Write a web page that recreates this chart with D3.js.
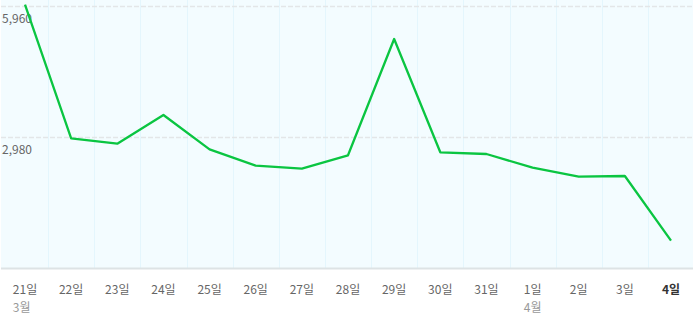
<!DOCTYPE html>
<html>
<head>
<meta charset="utf-8">
<script src="https://cdn.jsdelivr.net/npm/d3@7"></script>
<style>
	body { margin: 0; background: #fff; }
	svg { display: block; font-family: "Noto Sans CJK KR", "Noto Sans", sans-serif; }
</style>
</head>
<body>
<svg class="chart" width="694" height="317"></svg>
<script>
// data
var days = ["21일", "22일", "23일", "24일", "25일", "26일", "27일", "28일", "29일", "30일", "31일", "1일", "2일", "3일", "4일"];
var months = ["3월", "", "", "", "", "", "", "", "", "", "", "4월", "", "", ""];
var counts = [5990, 2950, 2828, 3480, 2700, 2327, 2259, 2564, 5209, 2632, 2593, 2282, 2077, 2093, 621];
var yTicks = [2980, 5960];

var svg = d3.select(".chart"),
	width = 694,
	baseY = 268;

var x = d3.scalePoint()
	.domain(days)
	.range([25, 671]);

var y = d3.scaleLinear()
	.domain([0, 5960])
	.range([baseY, 6]);

var step = x.step();

// plot background
svg.append("rect")
	.attr("x", 1)
	.attr("y", 0)
	.attr("width", width - 2)
	.attr("height", baseY)
	.attr("fill", "#f3fcff");

// vertical grid between days
svg.append("g")
	.selectAll("line")
	.data(days.slice(1))
	.enter().append("line")
	.attr("x1", function (d) { return Math.round(x(d) - step / 2) + 0.5; })
	.attr("x2", function (d) { return Math.round(x(d) - step / 2) + 0.5; })
	.attr("y1", 0)
	.attr("y2", baseY)
	.attr("stroke", "#e4f6fd")
	.attr("stroke-width", 1);

// horizontal dashed grid
svg.append("g")
	.selectAll("line")
	.data(yTicks)
	.enter().append("line")
	.attr("x1", 1)
	.attr("x2", width - 1)
	.attr("y1", function (d) { return Math.round(y(d)) + 0.5; })
	.attr("y2", function (d) { return Math.round(y(d)) + 0.5; })
	.attr("stroke", "#e3e6e8")
	.attr("stroke-width", 1.5)
	.attr("stroke-dasharray", "5,2");

// baseline
svg.append("line")
	.attr("x1", 1)
	.attr("x2", width - 1)
	.attr("y1", baseY + 0.5)
	.attr("y2", baseY + 0.5)
	.attr("stroke", "#dde3e5")
	.attr("stroke-width", 2);

// y labels
svg.append("g")
	.selectAll("text")
	.data(yTicks)
	.enter().append("text")
	.attr("x", 2)
	.attr("y", function (d) { return y(d) + 17; })
	.attr("fill", "#666")
	.attr("font-size", 12)
	.text(function (d) { return d3.format(",")(d); });

// line
var line = d3.line()
	.x(function (d, i) { return x(days[i]); })
	.y(function (d) { return y(d); });

svg.append("path")
	.datum(counts)
	.attr("fill", "none")
	.attr("stroke", "#0ac541")
	.attr("stroke-width", 2.3)
	.attr("stroke-linejoin", "round")
	.attr("d", line);

// x labels
var dayLabels = svg.append("g")
	.selectAll("text")
	.data(days)
	.enter().append("text")
	.attr("x", function (d) { return x(d); })
	.attr("y", 294)
	.attr("text-anchor", "middle")
	.attr("font-size", 12)
	.attr("font-weight", function (d, i) { return i === days.length - 1 ? "bold" : "normal"; })
	.attr("fill", function (d, i) { return i === days.length - 1 ? "#333" : "#666"; })
	.text(function (d) { return d; });

// month labels, aligned with the start of their day label
dayLabels.each(function (d, i) {
	if (!months[i]) return;
	var w = this.getComputedTextLength();
	svg.append("text")
		.attr("x", x(d) - w / 2)
		.attr("y", 312)
		.attr("font-size", 12)
		.attr("fill", "#999")
		.text(months[i]);
});
</script>
</body>
</html>
